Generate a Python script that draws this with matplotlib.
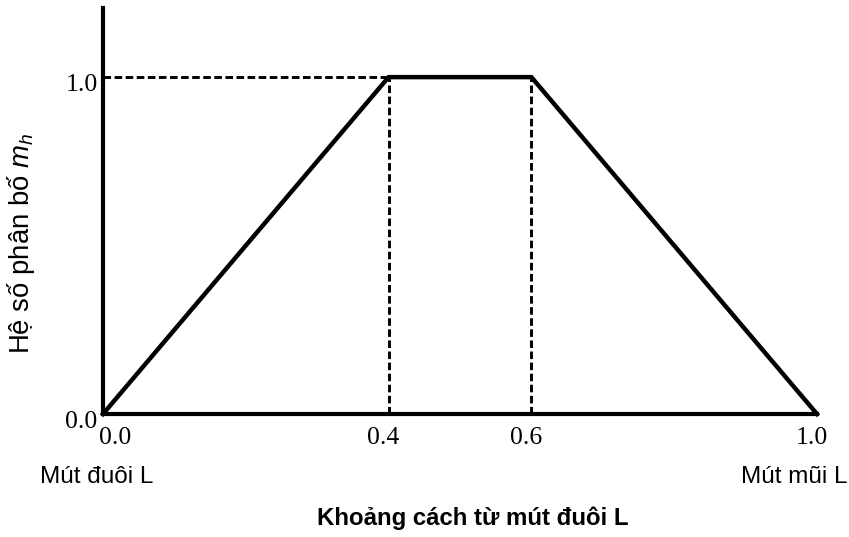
import matplotlib.pyplot as plt
import matplotlib.transforms as mtransforms

# hệ số phân bố theo chiều dài
x_pos = [0.0, 0.4, 0.6, 1.0]
m_h = [0.0, 1.0, 1.0, 0.0]
x_ticks = [0.0, 0.4, 0.6, 1.0]
x_tick_labels = ['0.0', '0.4', '0.6', '1.0']
y_ticks = [0.0, 1.0]
y_tick_labels = ['0.0', '1.0']

plt.rcParams['font.family'] = ['Liberation Sans', 'DejaVu Sans']
plt.rcParams['mathtext.fontset'] = 'custom'
plt.rcParams['mathtext.it'] = 'Liberation Sans:italic'
plt.rcParams['mathtext.rm'] = 'Liberation Sans'

fig = plt.figure(figsize=(8.49, 5.37), dpi=100)
ax = fig.add_axes([0.1213, 0.229, 0.841, 0.756])

ax.plot(x_pos, m_h, color='black', linewidth=3.2, clip_on=False,
        solid_joinstyle='miter', zorder=3)

# đường gióng nét đứt
dash = (0, (2.6, 1.2))
ax.plot([0.0, x_pos[1]], [m_h[1], m_h[1]], color='black', linewidth=2.1, linestyle=dash)
for xv, yv in zip(x_pos[1:3], m_h[1:3]):
    ax.plot([xv, xv], [0.0, yv], color='black', linewidth=2.1, linestyle=dash)

ax.set_xlim(0.0, 1.0)
ax.set_ylim(0.0, 1.205)

for side in ['top', 'right']:
    ax.spines[side].set_visible(False)
for side in ['left', 'bottom']:
    ax.spines[side].set_linewidth(3.0)

ax.set_xticks(x_ticks)
ax.set_xticklabels(x_tick_labels, family='Liberation Serif', fontsize=18.5)
ax.set_yticks(y_ticks)
ax.set_yticklabels(y_tick_labels, family='Liberation Serif', fontsize=18.5)
ax.tick_params(axis='x', length=0, pad=9)
ax.tick_params(axis='y', length=0, pad=4)

# dịch nhãn vạch một chút cho gần bản in
for i, lbl in enumerate(ax.get_xticklabels()):
    dx = 12 if i == 0 else -5
    lbl.set_transform(lbl.get_transform() +
                      mtransforms.ScaledTranslation(dx / 100, 0, fig.dpi_scale_trans))
for lbl in ax.get_yticklabels():
    lbl.set_transform(lbl.get_transform() +
                      mtransforms.ScaledTranslation(0, -5 / 100, fig.dpi_scale_trans))

ax.annotate('Mút đuôi L', xy=(0.0, 0.0), xytext=(-4.5, -45.5), textcoords='offset points',
            ha='center', va='center', fontsize=17.5)
ax.annotate('Mút mũi L', xy=(1.0, 0.0), xytext=(-16.5, -45.5), textcoords='offset points',
            ha='center', va='center', fontsize=17.5)

ax.set_xlabel('Khoảng cách từ mút đuôi L', fontsize=17.3, fontweight='bold')
ax.xaxis.set_label_coords(0.518, -0.228)
ax.set_ylabel('Hệ số phân bố $m_h$', fontsize=19.8)
ax.yaxis.set_label_coords(-0.093, 0.421)

fig.savefig('out.png', dpi=100, facecolor='white')
